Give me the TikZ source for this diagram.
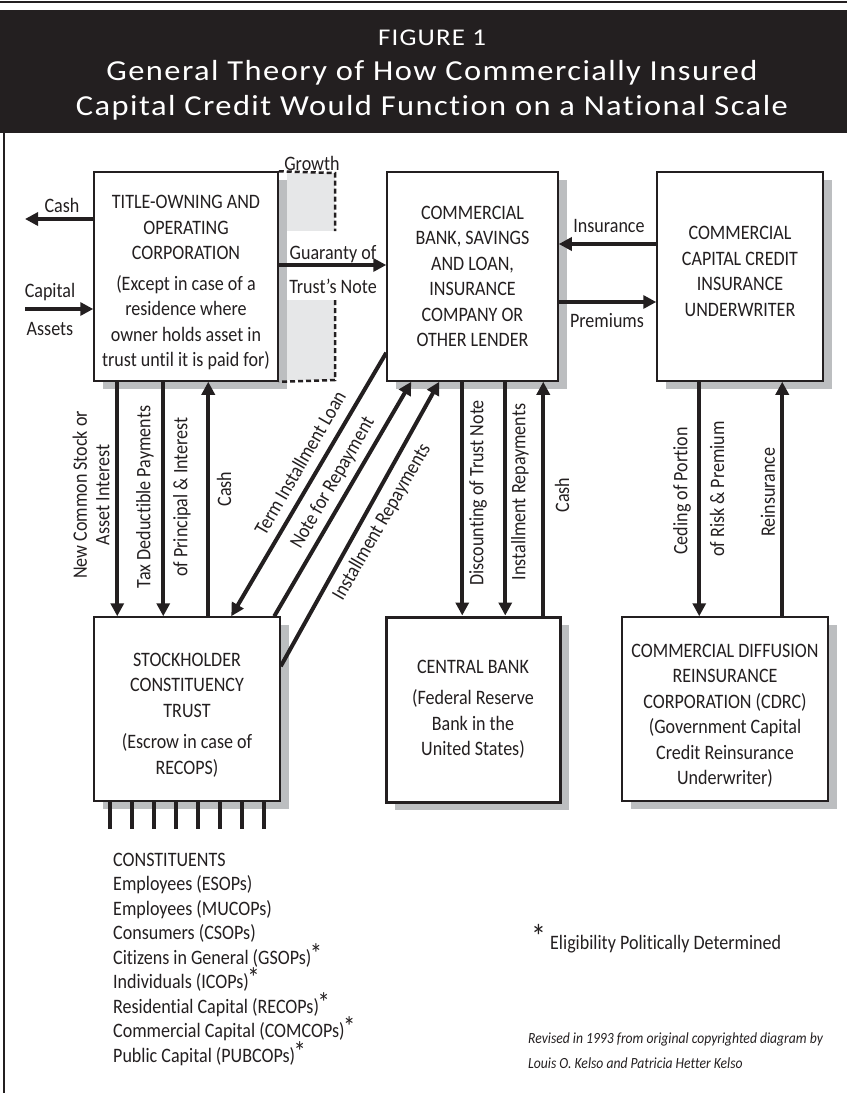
\documentclass[tikz,border=0pt]{standalone}
\usepackage{fontspec}
\setmainfont{Carlito}[FakeStretch=0.88,Ligatures=NoCommon]
\newfontfamily\titlefont{Carlito}[FakeStretch=1.12,LetterSpace=5,Ligatures=NoCommon]
\usetikzlibrary{arrows.meta,shadows}
\definecolor{ink}{HTML}{231F20}
\definecolor{shade}{HTML}{BCBEC0}
\definecolor{growfill}{HTML}{E6E7E8}
\newcommand{\elig}{\kern-1.5pt\raisebox{1pt}{\fontsize{28}{28}\selectfont *}}

\tikzset{
  box/.style={draw=ink, line width=1.5pt, fill=white, align=center, inner sep=0pt, text=ink,
    drop shadow={shadow xshift=9pt, shadow yshift=-8pt, fill=shade, draw=none, opacity=1}},
  flow/.style={draw=ink, line width=4pt, -{Triangle[length=13pt,width=13pt]}},
  bar/.style={draw=ink, line width=4pt},
  lbl/.style={inner sep=0pt, align=center, text=ink},
  head/.style={inner sep=0pt, text=white, anchor=base},
}

\begin{document}
\begin{tikzpicture}[x=1pt, y=-1pt, font=\fontsize{20.5}{25.5}\selectfont]
\useasboundingbox (0,0) rectangle (847,1093);
% header band and frame
\fill[ink] (0,10) rectangle (847,133);
\draw[ink, line width=1.5pt] (0,2) -- (847,2);
\draw[ink, line width=2pt] (4,133) -- (4,1093);
\node[head, font=\titlefont\fontsize{24}{24}\selectfont] (fig) at (432,45) {FIGURE 1};
\node[head, font=\titlefont\fontsize{29}{29}\selectfont] (title1) at (432,80) {General Theory of How Commercially Insured};
\node[head, font=\titlefont\fontsize{29}{29}\selectfont] (title2) at (432,115) {Capital Credit Would Function on a National Scale};

% growth area beside the corporation
\fill[growfill] (287,173) rectangle (335,231);
\fill[growfill] (287,300) rectangle (335,380);

% boxes
\node[box, minimum width=184pt, minimum height=209pt] (corp) at (186,276.5) {};
\node[lbl] (corptext) at ([yshift=-6pt]corp.center)
  {TITLE-OWNING AND\\OPERATING\\CORPORATION\\[5pt](Except in case of a\\residence where\\owner holds asset in\\trust until it is paid for)};
\node[box, minimum width=171pt, minimum height=209pt] (bank) at (472.5,276.5)
  {COMMERCIAL\\BANK, SAVINGS\\AND LOAN,\\INSURANCE\\COMPANY OR\\OTHER LENDER};
\node[box, minimum width=166pt, minimum height=209pt] (insur) at (740,276.5)
  {COMMERCIAL\\CAPITAL CREDIT\\INSURANCE\\UNDERWRITER\\[-15pt]};
\node[box, minimum width=186pt, minimum height=184pt] (trust) at (187,709) {};
\node[lbl] (trusttext) at ([yshift=-6pt]trust.center)
  {STOCKHOLDER\\CONSTITUENCY\\TRUST\\[6pt](Escrow in case of\\RECOPS)};
\node[box, line width=3pt, minimum width=174pt, minimum height=185pt] (central) at (473,709.5)
  {CENTRAL BANK\\[6pt](Federal Reserve\\Bank in the\\United States)};
\node[box, minimum width=206pt, minimum height=184pt] (reins) at (725,709) {};
\node[lbl] (reinstext) at ([yshift=-7pt]reins.center)
  {COMMERCIAL DIFFUSION\\REINSURANCE\\CORPORATION (CDRC)\\(Government Capital\\Credit Reinsurance\\Underwriter)};

\draw[ink, line width=2.5pt, dash pattern=on 5pt off 3pt] (corp.north east) -- (335,173) -- (335,231);
\draw[ink, line width=2.5pt, dash pattern=on 5pt off 3pt] (335,300) -- (335,380) -- (corp.south east);
\node[lbl] (growth) at (312,163) {Growth};

% horizontal flows
\coordinate (cashout) at (25,219);
\coordinate (capin) at (25,309);
\draw[flow] ([yshift=57.5pt]corp.west) -- (cashout);
\draw[flow] (capin) -- ([yshift=-32.5pt]corp.west);
\draw[flow] ([yshift=11.5pt]corp.east) -- ([yshift=11.5pt]bank.west);
\draw[flow] ([yshift=32.5pt]insur.west) -- ([yshift=32.5pt]bank.east);
\draw[flow] ([yshift=-25.5pt]bank.east) -- ([yshift=-25.5pt]insur.west);
\node[lbl] (lcash) at (62,205) {Cash};
\node[lbl] (lcap) at (50,292) {Capital};
\node[lbl] (lassets) at (50,329) {Assets};
\node[lbl] (lguar) at (333,254) {Guaranty of};
\node[lbl] (lnote) at (333,286) {Trust's Note};
\node[lbl] (lins) at (609,226) {Insurance};
\node[lbl] (lprem) at (607,321) {Premiums};

% vertical flows
\draw[flow] ([xshift=24pt]corp.south west) -- ([xshift=24pt]corp.south west |- trust.north);
\draw[flow] ([xshift=70pt]corp.south west) -- ([xshift=70pt]corp.south west |- trust.north);
\draw[flow] ([xshift=115pt]corp.south west |- trust.north) -- ([xshift=115pt]corp.south west);
\draw[flow] ([xshift=76pt]bank.south west) -- ([xshift=76pt]bank.south west |- central.north);
\draw[flow] ([xshift=119pt]bank.south west) -- ([xshift=119pt]bank.south west |- central.north);
\draw[flow] ([xshift=157pt]bank.south west |- central.north) -- ([xshift=157pt]bank.south west);
\draw[flow] ([xshift=43pt]insur.south west) -- ([xshift=43pt]insur.south west |- reins.north);
\draw[flow] ([xshift=126pt]insur.south west |- reins.north) -- ([xshift=126pt]insur.south west);
\node[lbl, rotate=90] (lstock) at (91,495) {New Common Stock or\\[-3pt]Asset Interest};
\node[lbl, rotate=90] (ltax) at (145,497) {Tax Deductible Payments};
\node[lbl, rotate=90] (lprin) at (182,497) {of Principal \& Interest};
\node[lbl, rotate=90] (lcash2) at (224,489) {Cash};
\node[lbl, rotate=90] (ldisc) at (478,493) {Discounting of Trust Note};
\node[lbl, rotate=90] (lrepay) at (520,492) {Installment Repayments};
\node[lbl, rotate=90] (lcash3) at (562,495) {Cash};
\node[lbl, rotate=90] (lced) at (682,491) {Ceding of Portion};
\node[lbl, rotate=90] (lrisk) at (717,489) {of Risk \& Premium};
\node[lbl, rotate=90] (lreins) at (768,492) {Reinsurance};

% diagonal flows
\draw[flow] ([yshift=29pt]bank.south west) -- ([xshift=138pt]trust.north west);
\draw[flow] ([xshift=181pt]trust.north west) -- ([xshift=25pt]bank.south west);
\draw[flow] ([yshift=-50pt]trust.north east) -- ([xshift=53pt]bank.south west);
\node[lbl, rotate=60] (lterm) at (300,463) {Term Installment Loan};
\node[lbl, rotate=60] (lnoterep) at (333,483) {Note for Repayment};
\node[lbl, rotate=60] (linst) at (382,522) {Installment Repayments};

% constituents
\foreach \i in {0,...,7}
  \draw[bar] ([xshift=17pt+21.9pt*\i]trust.south west) -- ++(0,27);
\foreach \t [count=\i from 0] in {CONSTITUENTS, Employees (ESOPs), Employees (MUCOPs), Consumers (CSOPs),
    Citizens in General (GSOPs)\elig, Individuals (ICOPs)\elig, Residential Capital (RECOPs)\elig,
    Commercial Capital (COMCOPs)\elig, Public Capital (PUBCOPs)\elig}
  \node[lbl, anchor=base west] (con\i) at (113,{866+24.5*\i}) {\t};

\node[lbl, anchor=base west] (elignote) at (531,949) {\raisebox{1pt}{\fontsize{34}{34}\selectfont *}\ Eligibility Politically Determined};
\node[lbl, anchor=base west, font=\fontsize{15.5}{20}\selectfont\itshape] (credit1) at (528,1043) {Revised in 1993 from original copyrighted diagram by};
\node[lbl, anchor=base west, font=\fontsize{15.5}{20}\selectfont\itshape] (credit2) at (528,1068) {Louis O. Kelso and Patricia Hetter Kelso};
\end{tikzpicture}
\end{document}
